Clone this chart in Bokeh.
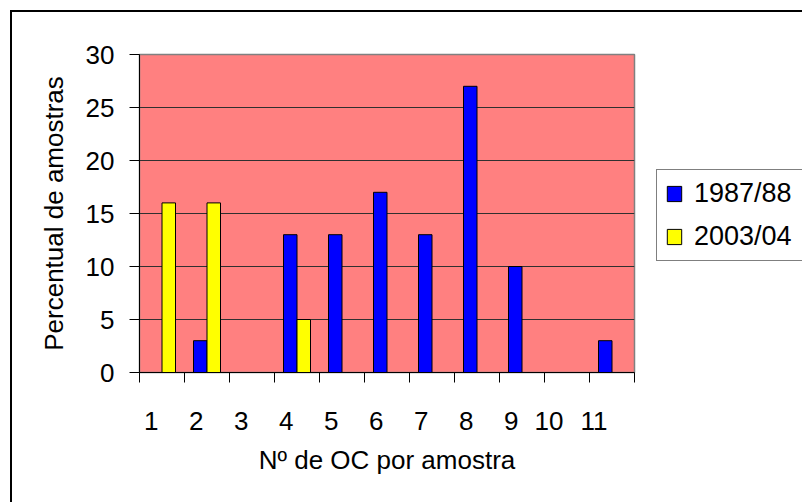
from bokeh.plotting import figure
from bokeh.models import Range1d, FixedTicker, Legend, LegendItem, ColumnDataSource
from bokeh.transform import dodge
from bokeh.embed import file_html
from bokeh.resources import INLINE

# ---- data ----
categories = [1, 2, 3, 4, 5, 6, 7, 8, 9, 10, 11]
tick_labels = ["1", "2", "3", "4", "5", "6", "7", "8", "9", "10", "11"]
series_names = ["1987/88", "2003/04"]
values_1987 = [0, 3, 0, 13, 13, 17, 13, 27, 10, 0, 3]
values_2003 = [16, 16, 0, 5, 0, 0, 0, 0, 0, 0, 0]
y_ticks = [0, 5, 10, 15, 20, 25, 30]
y_label = "Percentual de amostras"
x_label = "Nº de OC por amostra"

FONT = "Liberation Sans"
FS = "26px"

frame_w, frame_h = 495, 318
p = figure(width=790, height=490, output_backend="svg", toolbar_location=None,
           x_range=Range1d(categories[0] - 0.5, categories[-1] + 0.5),
           y_range=Range1d(y_ticks[0], y_ticks[-1]))
p.frame_width = frame_w
p.frame_height = frame_h
p.min_border_left = 127
p.min_border_top = 42
p.min_border_right = 168
p.min_border_bottom = 130
p.background_fill_color = "#FF8080"
p.border_fill_color = "white"
p.outline_line_color = "#808080"
p.outline_line_width = 1.5
p.styles = {"border-top": "2px solid black", "border-left": "2px solid black",
            "margin-left": "10px", "margin-top": "10px"}

def nonzero(vals):
    xs = [c for c, v in zip(categories, vals) if v != 0]
    ys = [v for v in vals if v != 0]
    return ColumnDataSource(dict(x=xs, top=ys))

s1 = nonzero(values_1987)
s2 = nonzero(values_2003)
bw = 0.3
r1 = p.vbar(x=dodge("x", -bw / 2, range=p.x_range), top="top", bottom=0, width=bw,
            source=s1, fill_color="#0000FF", line_color="black", line_width=1)
r2 = p.vbar(x=dodge("x", bw / 2, range=p.x_range), top="top", bottom=0, width=bw,
            source=s2, fill_color="#FFFF00", line_color="black", line_width=1)

# y axis
p.yaxis.ticker = FixedTicker(ticks=y_ticks)
p.yaxis.major_tick_out = 10
p.yaxis.major_tick_in = 0
p.yaxis.minor_tick_out = 0
p.yaxis.minor_tick_in = 0
p.yaxis.major_label_standoff = 15
p.yaxis.axis_label = y_label
p.yaxis.axis_label_standoff = 14

# x axis: boundary ticks as minor ticks, labels shifted left like the original
px_per_unit = frame_w / len(categories)
label_pos = []
for c, lbl in zip(categories, tick_labels):
    off_px = 3.5 + len(lbl) * 0.556 * 26 / 2
    label_pos.append(round(c - off_px / px_per_unit, 4))
bounds = [c - 0.5 for c in categories] + [categories[-1] + 0.5]
p.xaxis.ticker = FixedTicker(ticks=label_pos, minor_ticks=bounds)
p.xaxis.major_label_overrides = {pos: lbl for pos, lbl in zip(label_pos, tick_labels)}
p.xaxis.major_tick_out = 0
p.xaxis.major_tick_in = 0
p.xaxis.minor_tick_out = 10
p.xaxis.minor_tick_in = 0
p.xaxis.major_label_standoff = 29
p.xaxis.axis_label = x_label
p.xaxis.axis_label_standoff = 12

for ax in (p.xaxis, p.yaxis):
    ax.axis_line_color = "black"
    ax.major_tick_line_color = "black"
    ax.minor_tick_line_color = "black"
    ax.major_label_text_font = FONT
    ax.major_label_text_font_size = FS
    ax.major_label_text_color = "black"
    ax.axis_label_text_font = FONT
    ax.axis_label_text_font_size = FS
    ax.axis_label_text_font_style = "normal"
    ax.axis_label_text_color = "black"

p.xgrid.visible = False
p.ygrid.ticker = FixedTicker(ticks=y_ticks[1:-1])
p.ygrid.grid_line_color = "#303030"
p.ygrid.grid_line_width = 1

legend = Legend(items=[LegendItem(label=series_names[0], renderers=[r1]),
                       LegendItem(label=series_names[1], renderers=[r2])],
                location=(22, 111), orientation="vertical")
legend.padding = 8
legend.margin = 0
legend.spacing = 12
legend.glyph_width = 18
legend.glyph_height = 19
legend.label_height = 30
legend.label_width = 130
legend.label_standoff = 11
legend.label_text_font = FONT
legend.label_text_font_size = "27px"
legend.label_text_color = "black"
legend.border_line_color = "black"
legend.border_line_width = 1
legend.background_fill_color = "white"
legend.background_fill_alpha = 1
p.add_layout(legend, "right")

open("out.html", "w").write(file_html(p, INLINE))
